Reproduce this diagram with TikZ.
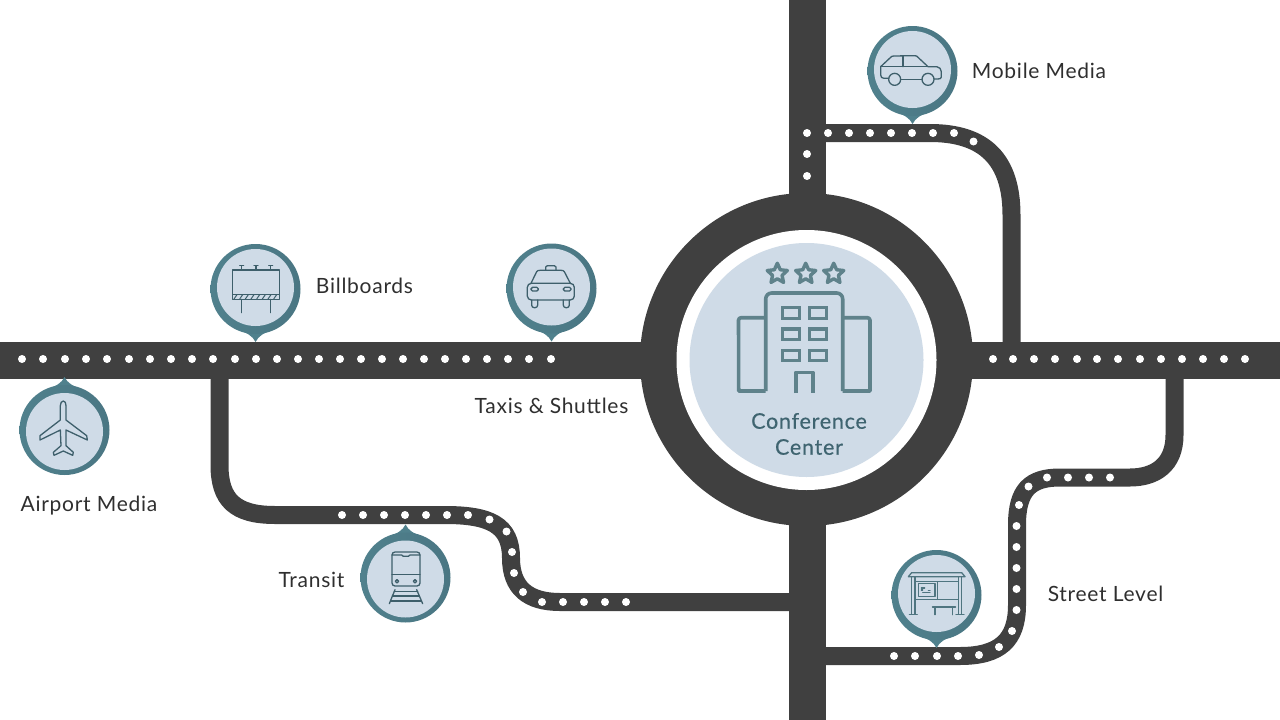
\documentclass[tikz,border=0pt]{standalone}
\usepackage{fontspec}
\setmainfont[LetterSpace=3.5]{Lato}
\newfontfamily\conffont[LetterSpace=3.5,FakeBold=0.4]{Lato}
\definecolor{roadc}{HTML}{404040}
\definecolor{lightc}{HTML}{CFDBE7}
\definecolor{pinl}{HTML}{50818D}
\definecolor{pinr}{HTML}{4A7683}
\definecolor{iconc}{HTML}{3E5F6B}
\definecolor{shelterc}{HTML}{4F7580}
\definecolor{hotelc}{HTML}{5F828B}
\definecolor{confc}{HTML}{3F6470}
\definecolor{labelc}{HTML}{2F2F2F}
\tikzset{
  mainroad/.style={draw=roadc,line width=37pt},
  sideroad/.style={draw=roadc,line width=18pt},
  lab/.style={text=labelc,inner sep=0pt,font=\fontsize{21}{24}\selectfont},
  conf/.style={text=confc,inner sep=0pt,font=\conffont\fontsize{21.5}{24}\selectfont},
  icn/.style={draw=iconc,line width=1.3pt,line join=round,line cap=round},
  hot/.style={draw=hotelc,line width=3.6pt,line join=round},
  zm/.style={x=.33333pt,y=-.33333pt}
}
\newcommand{\mappin}[3]{%
  \begin{scope}[shift={(#1,#2)}]
    \fill[pinl,yscale=#3] (0,53) .. controls (-3,47) and (-8,44) .. (-17,41) -- (17,41) .. controls (8,44) and (3,47) .. (0,53) -- cycle;
    \shade[left color=pinl,right color=pinr] (0,0) circle[radius=45pt];
    \fill[lightc] (0,-1.5*#3) circle[radius=38.5pt];
  \end{scope}}
\begin{document}
\begin{tikzpicture}[x=1pt,y=-1pt]
\useasboundingbox (0,0) rectangle (1280,720);
\clip (0,0) rectangle (1280,720);
% main roads
\draw[mainroad] (0,360) -- (660,360);
\draw[mainroad] (950,360) -- (1280,360);
\draw[mainroad] (807,0) -- (807,220);
\draw[mainroad] (807,500) -- (807,720);
% side roads
\draw[sideroad] (816,133) -- (930,133) .. controls (985,133) and (1011.5,160) .. (1011.5,215) -- (1011.5,350);
\draw[sideroad] (219.5,370) -- (219.5,465) .. controls (219.5,500) and (235,515) .. (275,515) -- (445,515)
   .. controls (490,515) and (511,525) .. (511,558) .. controls (511,588) and (528,602) .. (560,602) -- (800,602);
\draw[sideroad] (1174.5,370) -- (1174.5,435) .. controls (1174.5,465) and (1155,477.5) .. (1130,477.5) -- (1060,477.5)
   .. controls (1030,477.5) and (1017,490) .. (1017,525) -- (1017,605) .. controls (1017,640) and (1000,656) .. (960,656) -- (816,656);
% rotary
\fill[roadc] (806.5,359.5) circle[radius=166.5pt];
\fill[white] (806.5,360) circle[radius=130pt];
\fill[lightc] (806.5,360) circle[radius=117pt];
% dots
\foreach \x in {22,43,65,86,107,129,150,171,192,213,235,256,277,298,319,340,361,382,403,424,445,466,487,508,529,551,
                993,1013,1034,1055,1077,1097,1118,1140,1161,1182,1203,1224,1245}
  \fill[white] (\x,359) circle[radius=4pt];
\foreach \p in {(807,133),(807,154),(807,176),(828,133),(849,133),(870,133),(891,133),(912,133),(933,133),(954,133),(973.5,141.5),
   (342,515),(363,515),(384,515),(405,515),(426,515),(447,515),(468,515),(489.5,519.5),(506.5,531.5),(512,552),(514,573),(523,592),(542,602),(563,602),(584,602),(605,602),(626,602),
   (1110,477.5),(1089,477.5),(1068,477.5),(1047,477.5),(1028.5,486.5),(1019,505),(1016.5,526),(1016.5,547),(1016.5,568),(1016.5,589),(1016.5,610),(1012,631),(999,647),(979,655),(958,656),(937,656),(915,656),(894,656)}
  \fill[white] \p circle[radius=4pt];
% hotel icon
\draw[hot] (765.7,391) -- (765.7,299) arc[start angle=180,end angle=90,radius=6pt] -- (836.7,293) arc[start angle=90,end angle=0,radius=6pt] -- (842.7,391);
\draw[hot] (765.7,317.7) -- (741,317.7) arc[start angle=90,end angle=180,radius=2.5pt] -- (738.7,391) -- (765.7,391);
\draw[hot] (842.7,317.7) -- (867.5,317.7) arc[start angle=90,end angle=0,radius=2.5pt] -- (870,391) -- (842.7,391);
\foreach \yy in {307.7,329,350.3}
  \foreach \xx in {782.7,809.5}
    \draw[draw=hotelc,line width=3.2pt] (\xx,\yy) rectangle ++(17,10.5);
\draw[hot] (795.7,393) -- (795.7,372.5) -- (813,372.5) -- (813,393);
\foreach \cx in {777.3,805.7,833.7}
  \draw[hot,line width=3.4pt] (\cx,263.2)
    \foreach \ang in {1,...,9}{ -- ({\cx+ifthenelse(mod(\ang,2)==1,5,10.6)*sin(\ang*36)},{273.8-ifthenelse(mod(\ang,2)==1,5,10.6)*cos(\ang*36)}) } -- cycle;
\node[conf] (conf1) at (809,421) {Conference};
\node[conf] (conf2) at (809,447) {Center};
% pins
\mappin{255.5}{289}{1}
\mappin{551.5}{288.5}{1}
\mappin{64.5}{430}{-1}
\mappin{405.5}{577.5}{-1}
\mappin{936.5}{595}{1}
\mappin{912.5}{71}{1}
% billboard
\begin{scope}[shift={(200,235)},zm]
  \draw[icn] (98,105) rectangle (238,178);
  \draw[icn] (98,178) rectangle (238,193);
  \foreach \q in {108,125,142,159,176,193,210,227}
    \draw[icn,line width=1pt] (\q-6,192) -- (\q+3,179);
  \draw[icn] (125,193) -- (125,233) (212,193) -- (212,233);
  \foreach \q in {125,168,212}
    \draw[icn] (\q,105) -- (\q,92) (\q-6,92) -- (\q+6,92);
\end{scope}
% taxi
\begin{scope}[shift={(495,235)},zm]
  \draw[icn] (108,145) -- (125,110) .. controls (127,107) and (130,106) .. (135,106) -- (198,106) .. controls (203,106) and (206,107) .. (208,110) -- (226,145);
  \draw[icn] (152,105) -- (152,96) .. controls (152,93) and (154,92) .. (157,92) -- (178,92) .. controls (181,92) and (183,93) .. (183,96) -- (183,105);
  \draw[icn,rounded corners=4pt] (97,145) rectangle (238,195);
  \draw[icn,rounded corners=1.5pt] (108,157) rectangle (130,168);
  \draw[icn,rounded corners=1.5pt] (205,157) rectangle (228,168);
  \draw[icn,rounded corners=2.5pt] (110,195) -- (110,218) -- (128,218) -- (128,195);
  \draw[icn,rounded corners=2.5pt] (205,195) -- (205,218) -- (223,218) -- (223,195);
\end{scope}
% airplane
\begin{scope}[shift={(10,375)},zm]
  \draw[icn] (151,135) -- (151,92) .. controls (151,84) and (155,78) .. (160,78) .. controls (165,78) and (168,84) .. (168,92) -- (168,135)
   -- (230,182) -- (232,195) -- (168,165) -- (168,212) -- (190,232) -- (188,241) -- (160,228) -- (132,241) -- (130,232) -- (153,212) -- (151,165) -- (90,195) -- (90,182) -- cycle;
\end{scope}
% train
\begin{scope}[shift={(350,522)},zm]
  \draw[icn,rounded corners=3pt] (126,90) rectangle (210,192);
  \draw[icn] (126,158) -- (210,158);
  \draw[icn] (126,99) -- (155,99) -- (160,103) -- (175,103) -- (180,99) -- (210,99);
  \draw[icn] (141,178) circle[radius=1.7pt] (195,178) circle[radius=1.7pt];
  \draw[icn] (135,203) -- (118,245) (200,203) -- (218,245);
  \draw[icn] (133,208) -- (203,208) (127,222) -- (208,222) (122,237) -- (213,237);
\end{scope}
% bus stop
\begin{scope}[shift={(880,540)},zm,icn/.append style={draw=shelterc}]
  \draw[icn] (85,110) -- (95,98) -- (245,98) -- (255,110) -- cycle;
  \draw[icn] (95,112) -- (95,222) (105,112) -- (105,222) (235,112) -- (235,222) (245,112) -- (245,222);
  \draw[icn] (88,224) -- (112,224) (228,224) -- (252,224);
  \draw[icn] (105,125) -- (235,125) (105,178) -- (235,178) (172,125) -- (172,178);
  \draw[icn] (115,131) rectangle (165,170);
  \draw[icn] (124,144) -- (134,144) (124,150) -- (128,150) (128,158) -- (150,158) (145,152) -- (150,152);
  \draw[icn,line width=1.8pt] (158,202) -- (226,202);
  \draw[icn] (165,204) -- (165,224) (218,204) -- (218,224);
\end{scope}
% car
\begin{scope}[shift={(858,15)},zm]
  \draw[icn] (92,190) -- (78,190) .. controls (72,190) and (68,186) .. (68,180) -- (68,155) -- (98,127) .. controls (100,124) and (103,123) .. (108,123) -- (170,122) .. controls (175,122) and (178,124) .. (180,127) -- (210,155) -- (236,155) .. controls (244,156) and (250,162) .. (250,170) -- (250,186) .. controls (250,190) and (246,192) .. (240,192) -- (228,192);
  \draw[icn] (110,193) circle[radius=6pt] (210,193) circle[radius=6pt];
  \draw[icn] (128,193) -- (192,193);
  \draw[icn] (68,155) -- (210,155) (135,122) -- (135,155);
\end{scope}
% labels
\node[lab] (l1) at (1039,71) {Mobile Media};
\node[lab] (l2) at (364.5,286) {Billboards};
\node[lab] (l3) at (551.5,406) {Taxis \& Shuttles};
\node[lab] (l4) at (89,505.5) {Airport Media};
\node[lab] (l5) at (311.5,580) {Transit};
\node[lab] (l6) at (1105.5,594) {Street Level};
\end{tikzpicture}
\end{document}
